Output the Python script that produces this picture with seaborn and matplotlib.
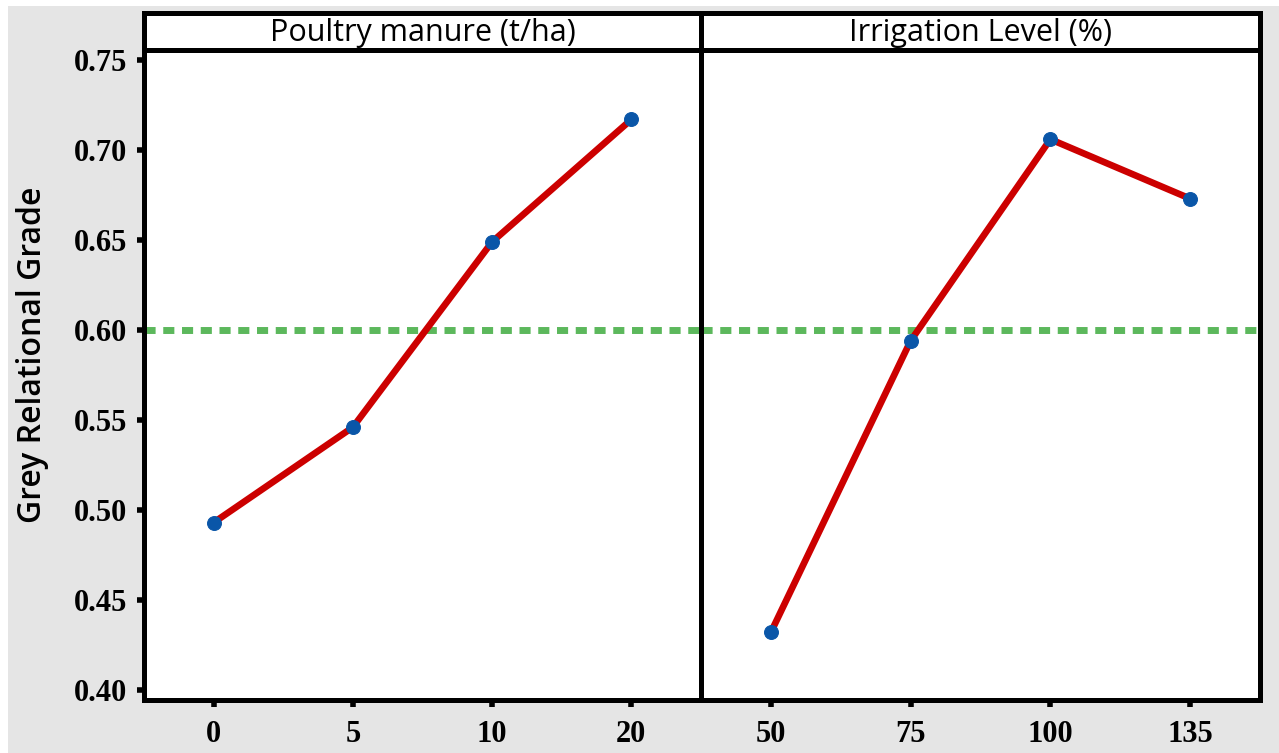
import numpy as np
import matplotlib
matplotlib.use("Agg")
import matplotlib.pyplot as plt
from matplotlib.patches import Rectangle
import seaborn as sns

# --- data ---
manure_levels = ["0", "5", "10", "20"]
manure_grg = [0.493, 0.546, 0.649, 0.717]
irrig_levels = ["50", "75", "100", "135"]
irrig_grg = [0.432, 0.594, 0.706, 0.673]
facet_titles = ["Poultry manure (t/ha)", "Irrigation Level (%)"]
y_ticks = [0.40, 0.45, 0.50, 0.55, 0.60, 0.65, 0.70, 0.75]
ref_line = 0.60

sns.set_style("white")
plt.rcParams["font.family"] = ["Open Sans", "DejaVu Sans"]
plt.rcParams["text.color"] = "black"
plt.rcParams["axes.labelcolor"] = "black"
plt.rcParams["xtick.color"] = "black"
plt.rcParams["ytick.color"] = "black"

W, H = 1279, 753
fig = plt.figure(figsize=(W / 100, H / 100), dpi=100, facecolor="white")
# grey page behind the plot
fig.patches.append(Rectangle((8 / W, 0), 1 - 8 / W, 1 - 6 / H, transform=fig.transFigure,
                             facecolor="#e5e5e5", edgecolor="none", zorder=-10))

red = "#cc0000"
blue = "#0a56a8"
green = "#5cb85c"
spine_w = 3.6

top_px, bot_px = 50, 699.5
lefts = [144, 701]
rights = [701, 1260]
panels = [(manure_levels, manure_grg), (irrig_levels, irrig_grg)]

for i, (levels, vals) in enumerate(panels):
    x0 = lefts[i] / W
    w = (rights[i] - lefts[i]) / W
    ax = fig.add_axes([x0, 1 - bot_px / H, w, (bot_px - top_px) / H])
    ax.set_facecolor("white")
    pos = np.arange(len(levels))
    ax.axhline(ref_line, color=green, lw=5, ls=(0, (1.6, 1.1)), zorder=1)
    sns.lineplot(x=pos, y=vals, ax=ax, color=red, lw=4.8, marker="o", markersize=10,
                 markerfacecolor=blue, markeredgecolor=blue, zorder=3)
    ax.set_xlim(-0.5, len(levels) - 0.5)
    ax.set_ylim(0.3947, 0.7556)
    ax.set_xticks(pos)
    ax.set_xticklabels(levels)
    for s in ax.spines.values():
        s.set_linewidth(spine_w)
        s.set_color("black")
    ax.tick_params(axis="x", length=5, width=4, direction="out", pad=10, bottom=True)
    if i == 0:
        ax.set_yticks(y_ticks)
        ax.set_yticklabels([f"{v:.2f}" for v in y_ticks])
        ax.tick_params(axis="y", length=5, width=4, direction="out", pad=7, left=True)
        ax.set_ylabel("Grey Relational Grade", fontsize=23, fontweight="semibold")
        ax.yaxis.set_label_coords(-0.17, 0.53)
    else:
        ax.set_yticks(y_ticks)
        ax.set_yticklabels([])
        ax.tick_params(axis="y", length=0)
    for lab in ax.get_xticklabels() + ax.get_yticklabels():
        lab.set_fontfamily("Liberation Serif")
        lab.set_fontweight("bold")
        lab.set_fontsize(22)
    ax.set_xlabel("")
    ax.grid(False)

    # facet strip
    sax = fig.add_axes([x0, 1 - top_px / H, w, 37.5 / H])
    sax.set_facecolor("white")
    sax.set_xticks([])
    sax.set_yticks([])
    for s in sax.spines.values():
        s.set_linewidth(spine_w)
        s.set_color("black")
    sax.text(0.5, 0.45, facet_titles[i], ha="center", va="center", fontsize=22,
             transform=sax.transAxes)

fig.savefig("out.png", dpi=100, facecolor=fig.get_facecolor())
